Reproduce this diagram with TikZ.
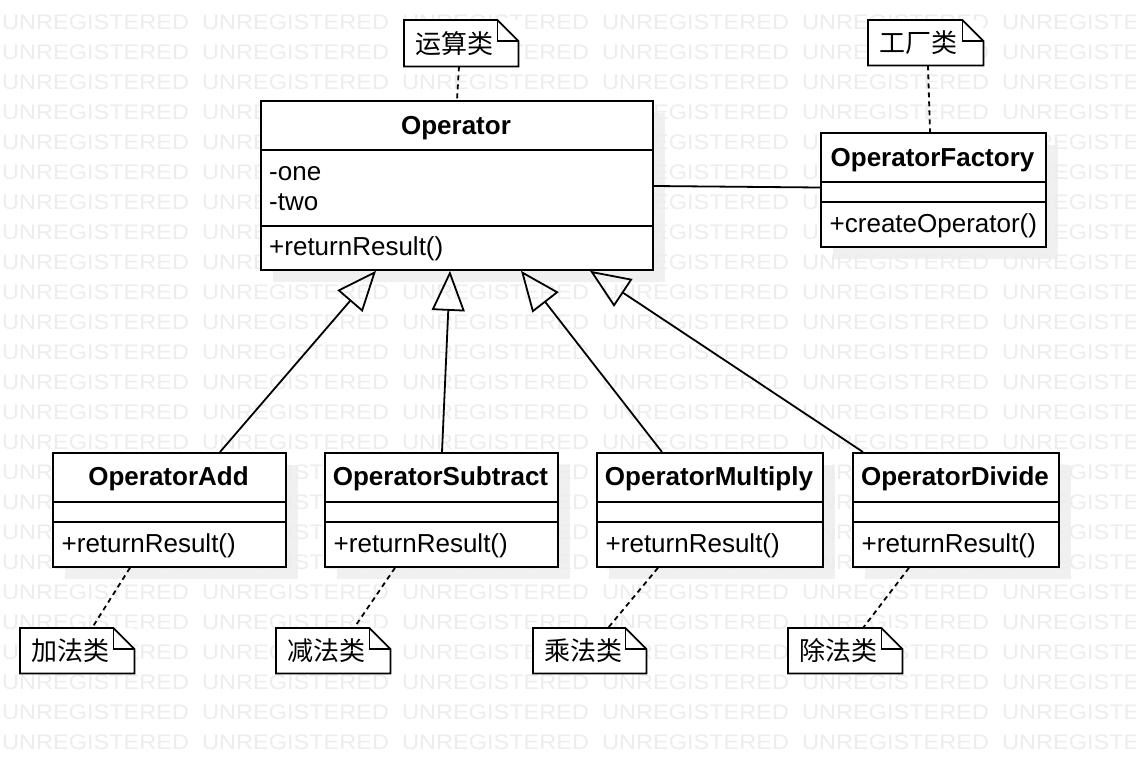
\documentclass[tikz,border=0pt]{standalone}
\usepackage{fontspec}
\setmainfont{Liberation Sans}
\newfontfamily\cjk{Noto Sans CJK SC}
\usetikzlibrary{arrows.meta,calc}
\tikzset{
  box/.style={draw, line width=1.8pt, fill=white, inner sep=0pt, anchor=north west},
  divline/.style={line width=1.8pt},
  hdr/.style={font=\fontsize{26}{30}\selectfont\bfseries, inner sep=0pt, anchor=base},
  mem/.style={font=\fontsize{26}{30}\selectfont, inner sep=0pt, anchor=base west},
  notebox/.style={fill=white, draw=none, inner sep=0pt, anchor=north west},
  noteline/.style={line width=1.8pt, line join=miter},
  notetxt/.style={font=\cjk\fontsize{26}{30}\selectfont, inner sep=0pt, anchor=west},
  notelink/.style={line width=1.8pt, dash pattern=on 5pt off 4pt},
  gen/.style={line width=1.8pt, -{Triangle[open, length=40pt, width=33pt]}},
  assoc/.style={line width=1.8pt},
  shadowbox/.style={fill=black!6},
  wm/.style={anchor=base west, inner sep=0pt, text=black!7, font=\fontsize{21}{21}\selectfont},
}
\newcommand\notefold[1]{%
  \draw[noteline] (#1.south west) -- (#1.north west) -- ([xshift=-21pt]#1.north east)
    -- ([yshift=-21pt]#1.north east) -- (#1.south east) -- cycle;
  \draw[noteline] ([xshift=-21pt]#1.north east) |- ([yshift=-21pt]#1.north east);
}
\begin{document}
\begin{tikzpicture}[x=1pt, y=-1pt]
\useasboundingbox (0,0) rectangle (1136,756);
\fill[white] (0,0) rectangle (1136,756);
% shadows
\foreach \l/\t/\r/\b in {260/100/652/269, 820/132/1045/246, 52/452/285/566, 324/452/557/566, 596/452/822/566, 852/452/1058/566}
  \fill[shadowbox] (\l+13,\t+13) rectangle (\r+13,\b+13);
% watermark
\begin{scope}
  \clip (0,0) rectangle (1136,756);
  \foreach \rr in {0,...,25}
    \foreach \cc in {0,...,5}
      \node[wm] (wm-\rr-\cc) at (2+200*\cc, -1+30*\rr) {\scalebox{1.12}[1]{UNREGISTERED}};
\end{scope}

% classes
\node[box, minimum width=392pt, minimum height=169pt] (op) at (260,100) {};
\draw[divline] ([yshift=-50pt]op.north west) -- ([yshift=-50pt]op.north east);
\draw[divline] ([yshift=-126pt]op.north west) -- ([yshift=-126pt]op.north east);
\node[hdr] (opT) at (456,134) {Operator};
\node[mem] (opA1) at (269,180) {-one};
\node[mem] (opA2) at (269,210) {-two};
\node[mem] (opM) at (269,255) {+returnResult()};

\node[box, minimum width=225pt, minimum height=114pt] (fac) at (820,132) {};
\draw[divline] ([yshift=-50pt]fac.north west) -- ([yshift=-50pt]fac.north east);
\draw[divline] ([yshift=-70pt]fac.north west) -- ([yshift=-70pt]fac.north east);
\node[hdr] (facT) at (932.5,166.5) {OperatorFactory};
\node[mem] (facM) at (829.5,232) {+createOperator()};

\foreach \nm/\l/\w/\txt in {add/52/233/OperatorAdd, sub/324/233/OperatorSubtract, mul/596/226/OperatorMultiply, div/852/206/OperatorDivide}{
  \node[box, minimum width=\w pt, minimum height=114pt] (\nm) at (\l,452) {};
  \draw[divline] ([yshift=-50pt]\nm.north west) -- ([yshift=-50pt]\nm.north east);
  \draw[divline] ([yshift=-70pt]\nm.north west) -- ([yshift=-70pt]\nm.north east);
  \node[hdr] (\nm T) at (\l+\w/2,485.5) {\txt};
  \node[mem] (\nm M) at (\l+9.5,552) {+returnResult()};
}

% notes
\node[notebox, minimum width=114pt, minimum height=46pt] (nOp) at (404,20) {};
\notefold{nOp}
\node[notetxt] (nOpT) at ($(nOp.west)+(11pt,0)$) {运算类};

\node[notebox, minimum width=115pt, minimum height=45pt] (nFac) at (868,20) {};
\notefold{nFac}
\node[notetxt] (nFacT) at ($(nFac.west)+(11pt,0)$) {工厂类};

\node[notebox, minimum width=114pt, minimum height=45pt] (nAdd) at (20,628) {};
\notefold{nAdd}
\node[notetxt] (nAddT) at ($(nAdd.west)+(11pt,0)$) {加法类};

\node[notebox, minimum width=114pt, minimum height=45pt] (nSub) at (276,628) {};
\notefold{nSub}
\node[notetxt] (nSubT) at ($(nSub.west)+(11pt,0)$) {减法类};

\node[notebox, minimum width=113pt, minimum height=45pt] (nMul) at (533,628) {};
\notefold{nMul}
\node[notetxt] (nMulT) at ($(nMul.west)+(11pt,0)$) {乘法类};

\node[notebox, minimum width=114pt, minimum height=45pt] (nDiv) at (788,628) {};
\notefold{nDiv}
\node[notetxt] (nDivT) at ($(nDiv.west)+(11pt,0)$) {除法类};

% connectors
\draw[assoc] ([yshift=-86pt]op.north east) -- ([yshift=-55.5pt]fac.north west);

\draw[gen] ([xshift=168pt]add.north west) -- ([xshift=116pt]op.south west);
\draw[gen] ([xshift=118pt]sub.north west) -- ([xshift=190pt]op.south west);
\draw[gen] ([xshift=66pt]mul.north west) -- ([xshift=261pt]op.south west);
\draw[gen] ([xshift=11pt]div.north west) -- ([xshift=330pt]op.south west);

\draw[notelink] ([xshift=55pt]nOp.south west) -- ([xshift=197pt]op.north west);
\draw[notelink] ([xshift=60pt]nFac.south west) -- ([xshift=110pt]fac.north west);
\draw[notelink] ([xshift=78pt]add.south west) -- ([xshift=72pt]nAdd.north west);
\draw[notelink] ([xshift=71pt]sub.south west) -- ([xshift=78pt]nSub.north west);
\draw[notelink] ([xshift=62pt]mul.south west) -- ([xshift=75pt]nMul.north west);
\draw[notelink] ([xshift=57pt]div.south west) -- ([xshift=75pt]nDiv.north west);
\end{tikzpicture}
\end{document}
